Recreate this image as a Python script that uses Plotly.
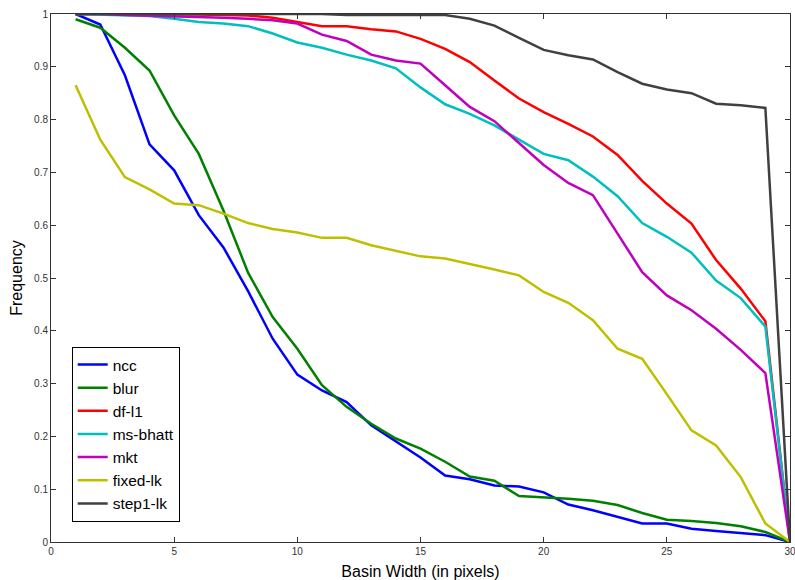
import plotly.graph_objects as go

x = list(range(1, 31))

ncc = [1.0, 0.98, 0.884, 0.753, 0.704, 0.619, 0.558, 0.475, 0.385, 0.317,
       0.287, 0.265, 0.221, 0.19, 0.16, 0.126, 0.119, 0.107, 0.105, 0.094,
       0.071, 0.06, 0.048, 0.035, 0.035, 0.025, 0.021, 0.017, 0.013, 0.0]
blur = [0.99, 0.974, 0.936, 0.893, 0.808, 0.735, 0.628, 0.51, 0.426, 0.366,
        0.297, 0.256, 0.224, 0.196, 0.177, 0.152, 0.124, 0.116, 0.087, 0.085,
        0.082, 0.078, 0.07, 0.055, 0.042, 0.04, 0.036, 0.03, 0.019, 0.0]
df_l1 = [1.0, 1.0, 1.0, 1.0, 0.999, 0.999, 0.998, 0.997, 0.993, 0.985,
         0.977, 0.977, 0.971, 0.967, 0.953, 0.934, 0.909, 0.874, 0.84, 0.814,
         0.792, 0.768, 0.733, 0.684, 0.641, 0.603, 0.534, 0.48, 0.418, 0.0]
ms_bhatt = [1.0, 0.999, 0.998, 0.996, 0.991, 0.985, 0.982, 0.977, 0.963, 0.946,
            0.936, 0.923, 0.912, 0.897, 0.861, 0.829, 0.811, 0.789, 0.762, 0.735,
            0.723, 0.692, 0.655, 0.604, 0.578, 0.548, 0.495, 0.462, 0.408, 0.0]
mkt = [1.0, 1.0, 0.998, 0.997, 0.996, 0.994, 0.993, 0.991, 0.988, 0.982,
       0.961, 0.949, 0.923, 0.912, 0.906, 0.865, 0.824, 0.797, 0.755, 0.714,
       0.68, 0.657, 0.584, 0.511, 0.467, 0.439, 0.404, 0.364, 0.32, 0.0]
fixed_lk = [0.865, 0.762, 0.691, 0.668, 0.641, 0.638, 0.622, 0.604, 0.593, 0.586,
            0.576, 0.576, 0.562, 0.552, 0.541, 0.537, 0.527, 0.516, 0.505, 0.4735,
            0.453, 0.42, 0.366, 0.347, 0.28, 0.2115, 0.183, 0.123, 0.035, 0.0]
step1_lk = [1.0, 1.0, 1.0, 1.0, 1.0, 1.0, 1.0, 1.0, 1.0, 1.0,
            1.0, 0.998, 0.998, 0.998, 0.998, 0.998, 0.991, 0.978, 0.955, 0.932,
            0.922, 0.914, 0.89, 0.868, 0.857, 0.85, 0.83, 0.827, 0.822, 0.0]

series = [
    ("ncc", ncc, "#0000FF"),
    ("blur", blur, "#008000"),
    ("df-l1", df_l1, "#FF0000"),
    ("ms-bhatt", ms_bhatt, "#00BFBF"),
    ("mkt", mkt, "#BF00BF"),
    ("fixed-lk", fixed_lk, "#BFBF00"),
    ("step1-lk", step1_lk, "#404040"),
]

fig = go.Figure()
for name, vals, col in series:
    fig.add_trace(go.Scatter(x=x, y=vals, mode="lines", name=name,
                             line=dict(color=col, width=2.5)))

axis_common = dict(
    showgrid=False, zeroline=False, showline=True, linecolor="#333333", linewidth=1,
    mirror="ticks", ticks="inside", ticklen=5, tickcolor="#333333",
    ticklabeloverflow="allow", automargin=False,
    tickfont=dict(family="Liberation Sans, Arial", size=10, color="#333333"),
)

fig.update_layout(
    width=795, height=580,
    margin=dict(l=51, r=5, t=14, b=38, autoexpand=False),
    paper_bgcolor="white", plot_bgcolor="white",
    font=dict(family="Liberation Sans, Arial", color="#000000"),
    xaxis=dict(range=[0, 30], tickvals=[0, 5, 10, 15, 20, 25, 30],
               title=dict(text="Basin Width (in pixels)", font=dict(size=16, color="#000000"), standoff=9),
               **axis_common),
    yaxis=dict(range=[0, 1], tickvals=[0, 0.1, 0.2, 0.3, 0.4, 0.5, 0.6, 0.7, 0.8, 0.9, 1],
               ticktext=["0", "0.1", "0.2", "0.3", "0.4", "0.5", "0.6", "0.7", "0.8", "0.9", "1"],
               title=dict(text="Frequency", font=dict(size=16, color="#000000"), standoff=7),
               **axis_common),
    legend=dict(x=0.028, y=0.038, xanchor="left", yanchor="bottom",
                bordercolor="#000000", borderwidth=1, bgcolor="white",
                font=dict(size=15.5, color="#000000"), tracegroupgap=0,
                itemwidth=30),
    showlegend=True,
)

fig.write_html("out.html", config={"displayModeBar": False},
               post_script="document.body.style.margin='0';document.body.style.overflow='hidden';")
